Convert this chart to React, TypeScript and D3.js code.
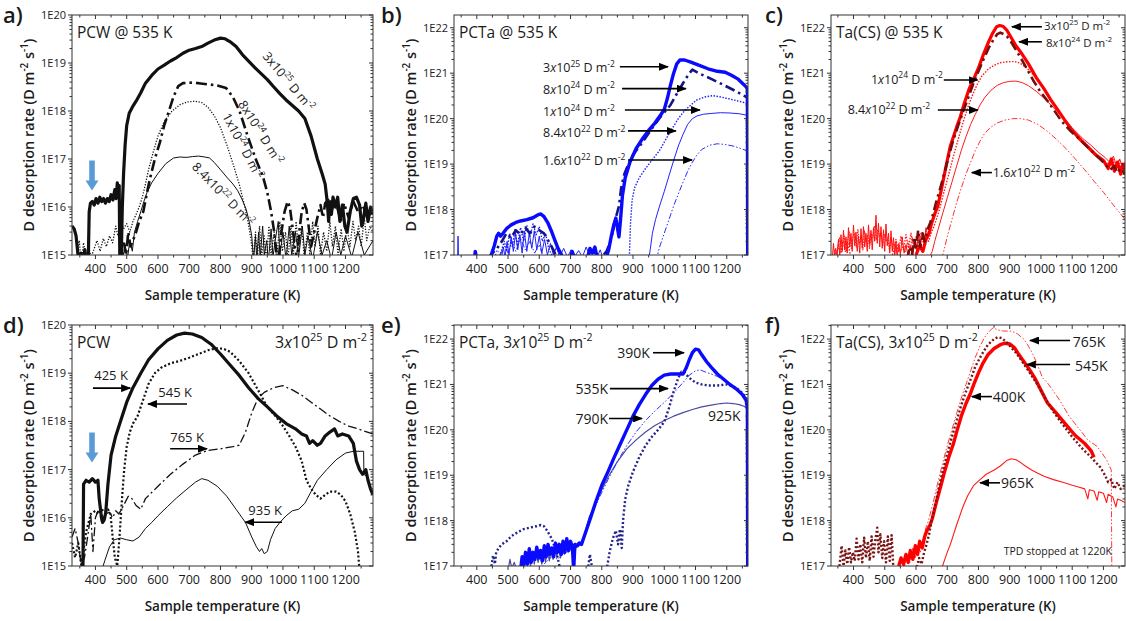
import React from "react";
import * as d3 from "d3";

type Pt = [number, number];
type Part = { t: string; sup?: boolean; it?: boolean };

const FONT = "'Open Sans', 'Noto Sans', sans-serif";
const INK = "#1a1a1a";

// ---------- shared axis values ----------
const xTicks = [400, 500, 600, 700, 800, 900, 1000, 1100, 1200];
const xMinor = [350, 450, 550, 650, 750, 850, 950, 1050, 1150, 1250];

// ---------- a) PCW @ 535 K ----------
const aFl3e25: Pt[] = [[325,4e15],[332,3.5e15],[338,2.5e15],[343,1.2e15],[348,6e14],[354,1.1e15],[360,5e14],[366,1.3e15],[372,5e14],[377,7e14],[380,8e15],[384,1.2e16],[390,1.3e16],[396,1.1e16],[402,1.5e16],[408,1.2e16],[414,1.6e16],[420,1.3e16],[426,1.5e16],[432,1.2e16],[438,1.5e16],[444,1.3e16],[450,1.8e16],[456,1.4e16],[462,2.3e16],[466,1.5e16],[470,3.2e16],[473,1.6e16],[476,2.8e16],[478,8e14],[482,6e14],[486,1e16],[490,5e16],[495,2e17],[500,5e17],[508,9e17],[518,1.2e18],[530,1.6e18],[545,2.4e18],[560,3.8e18],[580,5.5e18],[600,7.5e18],[620,9e18],[640,1.1e19],[660,1.3e19],[680,1.6e19],[700,1.85e19],[720,2e19],[740,2.2e19],[760,2.6e19],[780,3e19],[800,3.3e19],[815,3.2e19],[830,2.8e19],[850,2.2e19],[870,1.5e19],[890,1.1e19],[910,8e18],[930,6e18],[950,4.5e18],[970,3.2e18],[990,2.3e18],[1010,1.7e18],[1030,1.3e18],[1050,1e18],[1070,7e17],[1090,3e17],[1110,1e17],[1125,5e16],[1135,3e16],[1142,1.2e16],[1146,5e15],[1150,1.3e16],[1155,7e15],[1160,1.6e16],[1168,1e16],[1175,1.6e16],[1182,5e15],[1190,1.1e16],[1198,4e15],[1205,3e15],[1215,8e15],[1225,1.5e16],[1235,1.6e16],[1245,1.1e16],[1252,4e15],[1258,6e15],[1265,1.2e16],[1272,5e15],[1280,1e16],[1288,7e15]];
const aFl8e24: Pt[] = [[480,8e14],[490,2e15],[498,1e15],[505,3e15],[512,1.5e15],[520,2e15],[530,3e15],[540,5e15],[553,8e15],[565,2e16],[575,4e16],[590,1e17],[606,2.2e17],[620,5e17],[633,9e17],[650,2e18],[665,3.3e18],[680,3.8e18],[700,3.9e18],[730,3.8e18],[760,3.6e18],[790,3.4e18],[818,3e18],[839,2e18],[861,1e18],[887,3e17],[914,9.5e16],[935,4.5e16],[950,2e16],[962,8e15],[972,3e15],[980,1e15],[986,8e14],[995,3e15],[1005,8e15],[1015,1.3e16],[1022,1e16],[1030,4e15],[1038,1.5e15],[1045,8e14],[1052,3e15],[1060,8e15],[1068,1.2e16],[1075,9e15],[1082,4e15],[1090,1.5e15],[1100,3e15],[1110,6e15],[1120,1.1e16],[1128,6e15],[1135,1.2e16],[1145,1.4e16],[1155,8e15],[1165,1.4e16],[1175,9e15],[1185,5e15],[1195,1.2e16],[1210,6e15],[1225,1.3e16],[1240,8e15],[1255,1.1e16],[1270,6e15],[1288,9e15]];
const aFl1e24: Pt[] = [[340,8e14],[348,2e15],[355,7e14],[362,1.8e15],[370,8e14],[378,1.5e15],[386,9e14],[395,1.3e15],[405,2e15],[415,1.2e15],[425,2.2e15],[435,1.5e15],[445,2.5e15],[455,1.8e15],[465,4e15],[472,2.5e15],[480,5e15],[490,3.5e15],[500,4.5e15],[510,3e15],[520,5e15],[530,7e15],[540,1e16],[550,1.6e16],[560,3e16],[570,6e16],[585,1.4e17],[600,3e17],[620,6e17],[645,1e18],[670,1.35e18],[695,1.55e18],[720,1.6e18],[740,1.5e18],[760,1.2e18],[780,8e17],[800,4.5e17],[820,2e17],[840,8e16],[860,3e16],[875,1.2e16],[888,5e15],[898,2e15],[905,8e14],[912,3e15],[918,8e14],[925,4e15],[932,1e15],[940,2.5e15],[947,7e14],[955,4e15],[962,1e15],[972,3e15],[980,8e14],[990,5e15],[998,1.2e15],[1008,3e15],[1016,8e14],[1025,4e15],[1033,1e15],[1042,5e15],[1050,1.2e15],[1060,4e15],[1068,9e14],[1078,3e15],[1086,1e15],[1095,5e15],[1103,1.5e15],[1112,4e15],[1120,1e15],[1130,3e15],[1140,1.2e15],[1150,5e15],[1158,1.5e15],[1168,4e15],[1176,1e15],[1186,3.5e15],[1195,1.2e15],[1205,4e15],[1214,1.5e15],[1224,5e15],[1232,2e15],[1242,4e15],[1250,1.5e15],[1260,6e15],[1268,2e15],[1278,4e15],[1288,3e15]];
const aFl84e22: Pt[] = [[485,8e14],[495,1.5e15],[503,9e14],[510,2e15],[518,1.2e15],[525,3e15],[535,5e15],[545,8e15],[555,1.3e16],[565,2e16],[580,3.2e16],[600,5e16],[625,8e16],[650,1.05e17],[670,1.1e17],[690,1.08e17],[710,1.12e17],[730,1.15e17],[750,1.1e17],[765,1.05e17],[780,8.5e16],[800,6e16],[820,4.2e16],[840,3e16],[855,2.2e16],[870,1.4e16],[882,9e15],[892,5e15],[900,2.5e15],[906,8e14],[912,2.5e15],[916,8e14],[922,3e15],[927,9e14],[935,4e15],[940,1e15],[948,2e15],[953,7e14],[962,3.5e15],[968,9e14],[975,2e15],[985,5e15],[990,1e15],[1000,3e15],[1010,8e14],[1020,4e15],[1028,1e15],[1040,3e15],[1050,9e14],[1062,4e15],[1070,1e15],[1080,2.5e15],[1095,8e14],[1110,3e15],[1125,1e15],[1140,2e15],[1155,8e14],[1170,3e15],[1185,1e15],[1200,2.5e15],[1220,9e14],[1240,3e15],[1260,1e15],[1288,2e15]];

// ---------- b) PCTa @ 535 K ----------
const bFl3e25: Pt[] = [[390,5e16],[395,1.2e17],[400,8e16],[440,8e16],[448,1.1e17],[456,1.6e17],[464,2.6e17],[470,3e17],[476,2.6e17],[484,3e17],[495,3.8e17],[510,4.6e17],[525,5.2e17],[540,5.6e17],[560,6e17],[580,6.6e17],[595,7.6e17],[605,8e17],[615,7e17],[628,5e17],[640,3.2e17],[650,2.1e17],[660,1.4e17],[670,1.05e17],[675,8e16],[700,8e16],[705,1.2e17],[712,9e16],[755,9e16],[762,1.4e17],[770,1.1e17],[778,1.5e17],[785,9e16],[815,9e16],[822,1.3e17],[830,2.5e17],[838,4.5e17],[845,6.5e17],[850,4e17],[855,2.5e17],[860,6e17],[866,2e18],[875,5e18],[890,1.1e19],[910,2.2e19],[930,3.6e19],[950,5.5e19],[970,8e19],[990,1.25e20],[1000,1.6e20],[1010,2.8e20],[1020,5.5e20],[1030,1e21],[1040,1.6e21],[1050,1.95e21],[1065,1.95e21],[1085,1.75e21],[1110,1.5e21],[1140,1.25e21],[1170,1.1e21],[1195,1.05e21],[1215,9e20],[1235,7.5e20],[1250,6e20],[1262,5e20],[1266,4.5e20],[1267,5e16]];
const bFl8e24: Pt[] = [[440,8e16],[450,1.1e17],[465,1.4e17],[480,2e17],[495,3e17],[510,2.4e17],[525,3.5e17],[540,2.8e17],[555,4e17],[570,3e17],[585,4.2e17],[600,3.5e17],[615,3e17],[630,2e17],[645,1.3e17],[655,9e16],[800,9e16],[815,1.2e17],[828,2e17],[838,4e17],[846,7e17],[855,1.2e18],[862,3e18],[872,6e18],[885,1e19],[900,1.6e19],[930,3e19],[960,6e19],[990,1.15e20],[1005,1.5e20],[1020,2e20],[1040,3.5e20],[1060,6e20],[1078,9.5e20],[1090,1.2e21],[1110,1e21],[1150,7.5e20],[1190,5.5e20],[1230,4e20],[1262,3e20],[1266,2.8e20],[1267,5e16]];
const bFl1e24: Pt[] = [[470,8e16],[478,1.2e17],[488,2e17],[496,1.2e17],[505,3e17],[514,1.5e17],[522,3.6e17],[530,1.6e17],[540,4e17],[550,2e17],[560,4.5e17],[570,2.5e17],[580,4.8e17],[590,2.8e17],[600,4.2e17],[610,2e17],[620,3e17],[630,1.4e17],[640,1e17],[648,8e16],[888,8e16],[892,5e17],[897,1.6e18],[905,3e18],[920,5e18],[940,8e18],[960,1.2e19],[985,2e19],[1005,3.5e19],[1025,6e19],[1045,1e20],[1065,1.5e20],[1085,2e20],[1105,2.6e20],[1130,3e20],[1155,3.2e20],[1180,3e20],[1210,2.7e20],[1240,2.4e20],[1262,2.2e20],[1266,2e20],[1267,5e16]];
const bFl84e22: Pt[] = [[338,5e16],[340,2.6e17],[342,5e16],[478,8e16],[485,1.5e17],[490,9e16],[497,2e17],[503,1e17],[510,2.5e17],[517,1.2e17],[524,3e17],[531,1.3e17],[538,2.8e17],[545,1.1e17],[552,3.4e17],[560,1.2e17],[568,3e17],[576,1.4e17],[584,3.4e17],[592,1.3e17],[600,2.6e17],[608,1.1e17],[617,2.2e17],[626,1e17],[636,1.8e17],[645,1e17],[655,1.5e17],[665,9e16],[678,1.4e17],[690,9e16],[702,1.3e17],[712,9e16],[726,1.25e17],[738,9e16],[750,1.5e17],[760,1e17],[772,1.2e17],[785,9e16],[795,1.3e17],[805,8e16],[950,8e16],[955,1.3e17],[962,3e17],[972,6e17],[985,1.2e18],[1000,2.5e18],[1015,5.5e18],[1030,1.2e19],[1045,2.5e19],[1060,4.5e19],[1075,7.5e19],[1090,1e20],[1105,1.15e20],[1125,1.25e20],[1150,1.3e20],[1180,1.35e20],[1210,1.33e20],[1240,1.28e20],[1262,1.2e20],[1266,1.15e20],[1267,5e16]];
const bFl16e22: Pt[] = [[455,8e16],[465,1.3e17],[475,1e17],[488,1.6e17],[500,1.1e17],[512,2e17],[525,1.2e17],[540,2.3e17],[555,1.3e17],[570,2e17],[585,1.1e17],[600,1.7e17],[612,9e16],[975,8e16],[985,1.5e17],[1000,3e17],[1015,6e17],[1030,1.2e18],[1045,2.2e18],[1060,4e18],[1075,7e18],[1090,1.1e19],[1105,1.6e19],[1120,2.1e19],[1145,2.6e19],[1170,2.8e19],[1195,2.7e19],[1220,2.5e19],[1245,2.2e19],[1262,2e19],[1266,1.9e19],[1267,5e16]];

// ---------- c) Ta(CS) @ 535 K ----------
const cNoise: Pt[] = [[333,1e17],[336,1.8e17],[339,1e17],[343,1.4e17],[347,9e16],[352,2.2e17],[356,1e17],[360,2.8e17],[364,1.2e17],[368,3.5e17],[372,1.3e17],[376,2.5e17],[380,1.1e17],[384,4e17],[388,1.5e17],[392,3e17],[396,1.2e17],[400,4.5e17],[404,1.6e17],[408,3.2e17],[412,1.2e17],[416,2.6e17],[420,1.1e17],[424,3.8e17],[428,1.4e17],[432,4.2e17],[436,1.5e17],[440,3e17],[444,1.2e17],[448,4.6e17],[452,1.7e17],[456,3.5e17],[460,1.3e17],[464,4e17],[468,2e17],[472,7.5e17],[476,1.8e17],[480,5e17],[484,1.5e17],[488,4.2e17],[492,1.4e17],[496,3.6e17],[500,1.2e17],[504,4.8e17],[508,1.6e17],[512,3e17],[516,1.1e17],[520,3.4e17],[524,1.2e17],[528,2.4e17],[532,1e17],[536,2e17],[540,9e16],[545,1.8e17],[550,1e17],[556,2.5e17],[562,1.1e17],[568,1.7e17],[575,9e16],[582,1.6e17],[590,1e17],[596,2.2e17],[602,1.2e17],[608,3.3e17],[614,1.5e17],[620,3e17],[626,1.8e17],[632,4e17],[638,2.5e17]];
const cNoise2: Pt[] = [[340,1.3e17],[345,9e16],[350,1.6e17],[355,2.4e17],[361,1.1e17],[366,1.9e17],[371,2.6e17],[377,1.2e17],[382,2.2e17],[387,3.2e17],[393,1.4e17],[398,2.4e17],[403,3e17],[409,1.5e17],[414,3.6e17],[419,1.8e17],[425,2.6e17],[430,1.3e17],[435,3.4e17],[441,2e17],[446,2.8e17],[451,1.4e17],[457,3e17],[462,2.4e17],[467,4.4e17],[473,2.2e17],[478,3.6e17],[483,2.6e17],[489,3e17],[494,1.6e17],[499,2.8e17],[505,2e17],[510,2.4e17],[515,1.3e17],[521,2.2e17],[526,1.5e17],[531,1.8e17],[537,1.1e17],[543,1.6e17],[550,1.2e17],[558,1.5e17],[566,1.2e17],[574,2e17],[581,1.3e17],[588,2.4e17],[595,1.5e17],[603,2.6e17],[611,1.8e17],[618,2.4e17],[625,2e17],[632,2.8e17]];
const cFl3e25: Pt[] = [[600,1e17],[612,1.6e17],[622,1.2e17],[632,2.2e17],[642,3e17],[650,5e17],[660,8e17],[670,1.2e18],[680,2.5e18],[690,5.5e18],[700,1.2e19],[710,2.5e19],[720,4e19],[730,6.5e19],[742,1.1e20],[755,2.2e20],[770,4.5e20],[785,7.5e20],[800,1.3e21],[815,2.5e21],[830,4.5e21],[845,7.5e21],[858,1.05e22],[868,1.12e22],[878,1.08e22],[890,9e21],[905,6e21],[920,4e21],[940,2.6e21],[960,1.6e21],[985,8e20],[1010,4.5e20],[1030,2.7e20],[1050,1.7e20],[1075,9.5e19],[1100,5.5e19],[1125,3.5e19],[1150,2.4e19],[1175,1.6e19],[1200,1.2e19],[1215,8e18],[1225,1.3e19],[1235,7e18],[1245,1.1e19],[1255,6e18],[1262,1e19],[1269,7e18]];
const cFl8e24: Pt[] = [[572,8e16],[580,1.5e17],[587,1e17],[594,2.5e17],[600,1.3e17],[607,3.5e17],[614,1.5e17],[621,3e17],[628,2e17],[636,3.5e17],[645,5e17],[655,8e17],[665,1.5e18],[678,3e18],[690,6e18],[705,1.5e19],[720,3.5e19],[735,7e19],[752,1.5e20],[768,3e20],[784,6e20],[800,1.1e21],[816,2e21],[832,3.5e21],[848,5.5e21],[860,7.2e21],[870,7.8e21],[880,7.3e21],[891,6.5e21],[905,4.8e21],[923,3e21],[940,1.9e21],[955,1.25e21],[975,7e20],[997,4e20],[1020,2.5e20],[1040,1.6e20],[1065,9e19],[1093,5.5e19],[1115,4e19],[1136,2.9e19],[1160,2e19],[1179,1.5e19],[1200,1.1e19],[1221,7.5e18],[1235,9e18],[1243,6.5e18],[1255,8e18],[1269,6e18]];
const cFl1e24: Pt[] = [[345,1e17],[352,1.6e17],[358,1.1e17],[366,2e17],[374,1.2e17],[382,1.8e17],[390,1e17],[396,8e16],[520,8e16],[528,1.2e17],[536,2.2e17],[544,1.2e17],[552,2.6e17],[560,1.3e17],[568,2.8e17],[576,1.4e17],[584,3e17],[592,1.6e17],[600,2.5e17],[608,1.5e17],[616,3e17],[624,1.8e17],[632,2.6e17],[640,2e17],[648,3e17],[656,4e17],[665,6e17],[675,1e18],[690,2.5e18],[705,6e18],[720,1.5e19],[735,3.5e19],[750,8e19],[765,1.7e20],[780,3.2e20],[795,5.5e20],[810,8.5e20],[830,1.2e21],[850,1.5e21],[870,1.7e21],[890,1.78e21],[910,1.8e21],[925,1.75e21],[940,1.55e21],[960,1.2e21],[980,8.5e20],[1000,5.5e20],[1025,3e20],[1050,1.7e20],[1075,1e20],[1100,6e19],[1130,3.5e19],[1160,2.1e19],[1190,1.4e19],[1215,1e19],[1230,1.3e19],[1240,8e18],[1250,1.2e19],[1260,7e18],[1269,1e19]];
const cFl84e22: Pt[] = [[640,8e16],[652,1.2e17],[660,2e17],[670,3.5e17],[685,8e17],[700,1.8e18],[715,4e18],[730,9e18],[745,2e19],[760,4e19],[775,7.5e19],[790,1.25e20],[805,2e20],[820,2.9e20],[840,4.2e20],[860,5.4e20],[880,6.2e20],[900,6.6e20],[920,6.7e20],[940,6.2e20],[960,5.3e20],[985,4e20],[1010,2.8e20],[1035,1.9e20],[1060,1.25e20],[1085,8e19],[1110,5.3e19],[1135,3.6e19],[1160,2.6e19],[1185,1.8e19],[1205,1.4e19],[1220,1.1e19],[1232,1.5e19],[1242,9e18],[1252,1.3e19],[1262,8e18],[1269,1.1e19]];
const cFl16e22: Pt[] = [[682,8e16],[690,1.3e17],[700,2.5e17],[715,6e17],[730,1.4e18],[745,3e18],[760,6e18],[775,1.1e19],[790,2e19],[805,3.2e19],[820,4.8e19],[840,6.5e19],[860,8e19],[885,9.3e19],[910,1e20],[935,1e20],[960,9.3e19],[990,7.5e19],[1020,5.3e19],[1050,3.5e19],[1080,2.2e19],[1110,1.3e19],[1140,7.5e18],[1170,4.2e18],[1200,2.4e18],[1230,1.3e18],[1255,8e17],[1269,6e17]];

// ---------- d) PCW, 3x10^25 D m^-2 ----------
const d425: Pt[] = [[355,8e14],[360,8e14],[362,5e16],[370,6e16],[380,5.5e16],[390,6.5e16],[400,5.5e16],[408,6e16],[412,2.5e16],[418,1.2e16],[423,8e15],[428,9e15],[433,1.3e16],[440,5e16],[450,2e17],[465,5e17],[480,1e18],[500,2.5e18],[520,5e18],[545,1e19],[570,1.9e19],[600,3.2e19],[630,4.8e19],[660,6.2e19],[685,6.8e19],[710,6.5e19],[740,5.5e19],[770,4e19],[800,2.5e19],[830,1.5e19],[860,9e18],[890,5e18],[920,3e18],[950,2e18],[980,1.3e18],[1010,9e17],[1040,7e17],[1060,5.5e17],[1075,5e17],[1085,3.5e17],[1095,4e17],[1110,3.2e17],[1120,3.5e17],[1135,5e17],[1150,6e17],[1165,7e17],[1175,5e17],[1190,5.5e17],[1210,5e17],[1225,3.5e17],[1235,1.5e17],[1245,1e17],[1255,8e16],[1265,1e17],[1272,6e16],[1280,4e16],[1288,3e16]];
const d545: Pt[] = [[325,3e15],[335,1.5e15],[345,3e15],[355,1e15],[370,5e15],[385,1.2e16],[400,1.4e16],[410,1.2e16],[420,1.5e16],[430,1.3e16],[440,1.5e16],[448,1.2e16],[455,4e15],[462,1.5e15],[470,1e15],[478,5e15],[485,2.5e16],[492,1e17],[500,3e17],[510,6e17],[520,9e17],[535,1.3e18],[550,2.5e18],[570,6e18],[590,1e19],[610,1.3e19],[640,1.6e19],[670,1.8e19],[700,2.1e19],[730,2.5e19],[760,3e19],[790,3.3e19],[810,3.2e19],[830,2.8e19],[860,1.8e19],[890,1e19],[920,4.5e18],[950,2e18],[980,1.2e18],[1000,8e17],[1020,5e17],[1040,3e17],[1060,1.5e17],[1075,6e16],[1090,4e16],[1105,3e16],[1120,2.5e16],[1135,3e16],[1150,3.5e16],[1170,3.5e16],[1185,3e16],[1200,2.2e16],[1215,1.2e16],[1230,5e15],[1240,2e15],[1245,8e14]];
const d765: Pt[] = [[325,4e15],[335,6e15],[345,3e15],[355,1e15],[365,1.5e15],[375,4e15],[385,1.2e16],[392,2e15],[400,1e16],[410,1.5e16],[420,8e15],[432,1.2e16],[445,1.3e16],[455,1e16],[465,1.4e16],[475,1.2e16],[490,1.8e16],[505,2.8e16],[515,2.6e16],[530,1.8e16],[545,1.5e16],[560,2.5e16],[600,4.5e16],[640,8e16],[680,1.3e17],[720,2e17],[760,2.5e17],[800,2.7e17],[840,3e17],[860,3.2e17],[880,6e17],[900,1.5e18],[920,3e18],[940,4e18],[970,5e18],[1000,5.5e18],[1030,4.5e18],[1060,3.5e18],[1090,2.5e18],[1120,1.8e18],[1150,1.3e18],[1180,1e18],[1210,8e17],[1240,7e17],[1270,6e17],[1288,5.5e17]];
const d935: Pt[] = [[420,8e14],[430,1.3e15],[445,2.5e15],[460,3.5e15],[480,3.8e15],[500,3.5e15],[520,3.3e15],[540,4e15],[560,6e15],[580,8e15],[600,1.1e16],[630,1.7e16],[660,2.6e16],[690,3.8e16],[720,5.5e16],[740,6.5e16],[760,6e16],[790,4.5e16],[820,2.8e16],[850,1.5e16],[880,8e15],[900,4e15],[915,2.5e15],[925,2e15],[932,2.3e15],[940,1.8e15],[950,2e15],[960,3.5e15],[975,6e15],[990,8e15],[1010,1.1e16],[1030,1.4e16],[1050,1.5e16],[1070,2e16],[1090,3.5e16],[1110,6e16],[1140,1e17],[1170,1.6e17],[1200,2.2e17],[1225,2.4e17],[1258,2.4e17],[1259,8e16],[1270,7e16]];

// ---------- e) PCTa, 3x10^25 D m^-2 ----------
const e390: Pt[] = [[540,8e16],[545,1.6e17],[550,1e17],[556,2e17],[562,1.1e17],[568,2.4e17],[574,1.2e17],[580,2e17],[586,1.4e17],[592,2.6e17],[598,1.5e17],[604,2.2e17],[610,1.3e17],[616,2.8e17],[622,1.6e17],[628,3e17],[634,1.8e17],[640,2.5e17],[646,1.6e17],[652,3.2e17],[658,2e17],[664,3e17],[670,1.8e17],[676,3.5e17],[682,2e17],[688,4e17],[694,2.2e17],[700,3.5e17],[706,2.5e17],[710,8e16],[714,3e17],[722,2.8e17],[728,3.2e17],[735,3e17],[750,6e17],[765,1.2e18],[780,2.5e18],[800,6e18],[820,1.2e19],[840,2.5e19],[860,5e19],[880,1e20],[900,2e20],[920,3.6e20],[940,6e20],[960,9.5e20],[980,1.3e21],[1000,1.6e21],[1020,1.7e21],[1040,1.7e21],[1060,1.7e21],[1070,2.3e21],[1080,3.5e21],[1090,5e21],[1100,6e21],[1110,5.8e21],[1120,4.5e21],[1135,3.2e21],[1150,2.4e21],[1170,1.7e21],[1190,1.3e21],[1210,1e21],[1230,8e20],[1250,6e20],[1262,4.5e20],[1266,3e20],[1267,5e16]];
const e535: Pt[] = [[445,8e16],[452,1.7e17],[458,1.1e17],[462,2e17],[470,2.5e17],[480,3e17],[495,3.5e17],[510,4.5e17],[530,5.5e17],[550,6.5e17],[570,7e17],[590,7.5e17],[605,8e17],[615,7.5e17],[625,6e17],[640,4e17],[655,2e17],[662,1.2e17],[668,8e16],[755,8e16],[762,1.8e17],[770,8e16],[815,8e16],[825,2e17],[835,4e17],[845,6e17],[852,3e17],[858,6.5e17],[864,2.5e17],[868,1e18],[875,3e18],[885,6e18],[900,1.2e19],[920,2.5e19],[940,4.5e19],[960,7e19],[980,1e20],[1000,1.5e20],[1015,3e20],[1030,7e20],[1045,1.4e21],[1055,1.9e21],[1065,1.8e21],[1080,1.4e21],[1100,1.1e21],[1120,1e21],[1140,9.5e20],[1170,9.5e20],[1200,1e21],[1230,8.5e20],[1250,6.5e20],[1262,5e20]];
const e790: Pt[] = [[600,8e16],[620,1.2e17],[640,1.6e17],[660,1.4e17],[680,2e17],[700,2.2e17],[720,2.6e17],[735,3e17],[760,1e18],[790,3e18],[820,8e18],[850,2e19],[880,4.5e19],[910,9e19],[940,1.6e20],[970,2.6e20],[1000,4e20],[1030,6.5e20],[1060,1.1e21],[1080,1.6e21],[1100,2e21],[1115,2.1e21],[1130,1.9e21],[1150,1.7e21],[1170,1.5e21],[1190,1.25e21],[1210,1e21],[1230,8e20],[1250,6e20],[1262,4.5e20],[1266,3e20],[1267,5e16]];
const e925: Pt[] = [[500,8e16],[506,1.4e17],[512,9e16],[520,1.2e17],[528,8e16],[560,9e16],[566,1.5e17],[572,1e17],[578,2e17],[584,1.1e17],[590,2.2e17],[596,1.2e17],[602,1.8e17],[608,1.1e17],[614,2e17],[620,1.2e17],[626,2.4e17],[632,1.3e17],[638,2.2e17],[644,1.4e17],[650,2.6e17],[656,1.6e17],[662,2.4e17],[668,1.5e17],[674,2.8e17],[680,1.8e17],[686,3e17],[692,2e17],[698,2.8e17],[704,2.2e17],[710,3e17],[716,2.4e17],[722,3.2e17],[728,2.8e17],[735,3e17],[760,1.2e18],[790,3.5e18],[820,9e18],[850,2e19],[880,3.8e19],[910,6e19],[940,9e19],[970,1.25e20],[1000,1.6e20],[1030,2e20],[1060,2.4e20],[1090,2.8e20],[1120,3.2e20],[1150,3.5e20],[1180,3.8e20],[1200,3.9e20],[1220,3.8e20],[1240,3.6e20],[1255,3.3e20],[1265,3e20],[1267,2.8e20],[1268,5e16]];

// ---------- f) Ta(CS), 3x10^25 D m^-2 ----------
const f765: Pt[] = [[560,8e16],[572,1.6e17],[580,1.2e17],[590,2.5e17],[598,1.5e17],[606,3e17],[614,2e17],[622,4e17],[632,7e17],[640,1e18],[655,2.5e18],[670,7e18],[685,1.8e19],[700,4.5e19],[715,1e20],[730,2.3e20],[745,5e20],[760,1e21],[775,2e21],[790,4e21],[805,7e21],[820,1.1e22],[835,1.5e22],[848,1.8e22],[860,1.6e22],[880,1.5e22],[905,1.5e22],[925,1.3e22],[945,1e22],[960,7e21],[975,4.5e21],[990,2.6e21],[1005,1.4e21],[1020,1.1e21],[1035,8e20],[1060,4.5e20],[1090,2e20],[1120,1.1e20],[1150,6e19],[1180,4.3e19],[1210,2.2e19],[1225,1.3e19],[1227,5e16]];
const f545: Pt[] = [[355,1e17],[362,2.8e17],[368,1e17],[374,2.2e17],[380,1.1e17],[386,2.6e17],[392,1.2e17],[398,2e17],[404,1.3e17],[410,4e17],[416,1.4e17],[422,3e17],[428,1.2e17],[434,4.2e17],[440,1.5e17],[446,3.5e17],[452,1.3e17],[458,4.5e17],[464,1.6e17],[470,3.8e17],[476,7e17],[480,2e17],[486,5e17],[492,1.5e17],[498,3.5e17],[504,1.2e17],[510,4.5e17],[516,1.3e17],[522,4.8e17],[528,8e16],[600,8e16],[610,1.5e17],[618,1.1e17],[626,2e17],[634,3e17],[642,5e17],[650,1e18],[660,2e18],[672,5e18],[685,1.2e19],[700,3e19],[715,7e19],[730,1.6e20],[745,3.5e20],[760,7e20],[775,1.3e21],[790,2.5e21],[810,4.5e21],[830,7.5e21],[850,1e22],[862,1.1e22],[875,1.05e22],[890,8.5e21],[905,6.5e21],[920,5e21],[940,3.2e21],[960,2e21],[985,1.1e21],[1010,5.5e20],[1040,2.5e20],[1070,1.3e20],[1100,7e19],[1130,4e19],[1160,2.5e19],[1190,1.5e19],[1205,1e19],[1215,7e18],[1225,8e18],[1235,5e18],[1245,7e18],[1255,5e18],[1269,6e18]];
const f400: Pt[] = [[545,1e17],[552,1.5e17],[560,1.1e17],[568,1.8e17],[575,1.2e17],[582,2.2e17],[590,1.4e17],[598,2.8e17],[605,1.8e17],[612,3.5e17],[620,2.5e17],[628,4.5e17],[635,6e17],[645,8e17],[652,1.1e18],[665,2.5e18],[680,6e18],[690,1.1e19],[705,2.5e19],[720,5e19],[732,1e20],[745,2e20],[760,3.8e20],[775,6.5e20],[785,1e21],[800,1.8e21],[815,3e21],[830,4.5e21],[850,6.2e21],[870,7.5e21],[885,8.1e21],[900,7.8e21],[915,6.5e21],[930,4.5e21],[945,3.2e21],[960,2.3e21],[980,1.4e21],[1000,7.5e20],[1020,4e20],[1050,2.3e20],[1080,1.3e20],[1110,7.5e19],[1140,5e19],[1160,3.5e19],[1170,2.5e19]];
const f965: Pt[] = [[680,8e16],[700,2e17],[710,3e17],[730,8e17],[750,2e18],[765,3.5e18],[785,6e18],[805,8e18],[825,1.05e19],[850,1.3e19],[870,1.6e19],[890,2.1e19],[905,2.3e19],[920,2.2e19],[935,1.9e19],[950,1.6e19],[970,1.3e19],[990,1.1e19],[1010,9.5e18],[1040,8e18],[1070,7e18],[1100,6e18],[1120,5.5e18],[1140,5e18],[1150,3e18],[1155,4.8e18],[1170,4.5e18],[1180,2.8e18],[1185,4.3e18],[1200,4e18],[1210,2.5e18],[1215,3.8e18],[1230,3.3e18],[1240,2e18],[1245,3e18],[1255,2.8e18],[1269,2.5e18]];

// ---------- types / helpers ----------
type Series = { data: Pt[]; color: string; width: number; dash?: string };
type Note = { parts: Part[]; t: number; v: number; anchor?: "start" | "middle" | "end"; angle?: number; fs?: number };
type Arrow = [number, number, number]; // tail T, tip T, value
type PanelSpec = {
  key: string; letter: string; letterX: number;
  x0: number; x1: number; y0: number; y1: number;
  tDom: [number, number]; vDom: [number, number]; exps: number[];
  series: Series[]; header: Part[]; headerRight?: Part[];
  notes: Note[]; arrows: Arrow[]; blue?: [number, number];
};

const fl = (m: string, e: string, it = true): Part[] => [
  { t: m }, { t: "x", it }, { t: "10" }, { t: e, sup: true }, { t: " D m" }, { t: "-2", sup: true },
];
const txt = (s: string): Part[] => [{ t: s }];

function Rich({ parts, fs }: { parts: Part[]; fs: number }) {
  let up = false;
  return (
    <>
      {parts.map((p, i) => {
        let dy = 0;
        if (p.sup && !up) { dy = -0.42 * fs; up = true; }
        else if (!p.sup && up) { dy = 0.42 * fs; up = false; }
        return (
          <tspan key={i} dy={dy === 0 ? undefined : dy} fontSize={p.sup ? fs * 0.68 : fs}
            fontStyle={p.it ? "italic" : undefined}>{p.t}</tspan>
        );
      })}
    </>
  );
}

const BLACK = "#111";
const panels: PanelSpec[] = [
  {
    key: "a", letter: "a)", letterX: 3, x0: 72, x1: 373, y0: 15, y1: 255,
    tDom: [325, 1288], vDom: [1e15, 1e20], exps: [15, 16, 17, 18, 19, 20],
    series: [
      { data: aFl84e22, color: BLACK, width: 1 },
      { data: aFl1e24, color: BLACK, width: 1.3, dash: "1.2,1.6" },
      { data: aFl8e24, color: BLACK, width: 2.6, dash: "11,4,2.5,4" },
      { data: aFl3e25, color: BLACK, width: 3.2 },
    ],
    header: txt("PCW @ 535 K"),
    notes: [
      { parts: fl("3", "25", false), t: 1007, v: 3.6e18, anchor: "middle", angle: 50, fs: 12.5 },
      { parts: fl("8", "24", false), t: 917, v: 3.2e17, anchor: "middle", angle: 58, fs: 12.5 },
      { parts: fl("1", "24", false), t: 859, v: 1.7e17, anchor: "middle", angle: 62, fs: 12.5 },
      { parts: fl("8.4", "22", false), t: 799, v: 1.6e16, anchor: "middle", angle: 46, fs: 12.5 },
    ],
    arrows: [], blue: [389, 2.2e16],
  },
  {
    key: "b", letter: "b)", letterX: 381, x0: 454, x1: 748, y0: 15, y1: 255,
    tDom: [327, 1268], vDom: [1e17, Math.pow(10, 22.28)], exps: [17, 18, 19, 20, 21, 22],
    series: [
      { data: bFl16e22, color: "#2b2bff", width: 1, dash: "6,2,1.5,2,1.5,2" },
      { data: bFl84e22, color: "#2222ff", width: 1 },
      { data: bFl1e24, color: "#1f1fff", width: 1.4, dash: "1.5,1.5" },
      { data: bFl8e24, color: "#14148a", width: 2.6, dash: "10,4,2.5,4" },
      { data: bFl3e25, color: "#0a0aff", width: 3.4 },
    ],
    header: txt("PCTa @ 535 K"),
    notes: [
      { parts: fl("3", "25"), t: 612, v: 1.07e21, fs: 12.5 },
      { parts: fl("8", "24"), t: 612, v: 3.55e20, fs: 12.5 },
      { parts: fl("1", "24"), t: 612, v: 1.15e20, fs: 12.5 },
      { parts: fl("8.4", "22"), t: 612, v: 3.98e19, fs: 12.5 },
      { parts: fl("1.6", "22"), t: 612, v: 9.5e18, fs: 12.5 },
    ],
    arrows: [[858, 1012, 1.38e21], [865, 1069, 4.57e20], [874, 1114, 1.55e20], [884, 1037, 5.37e19], [884, 1089, 1.23e19]],
  },
  {
    key: "c", letter: "c)", letterX: 765, x0: 831, x1: 1125, y0: 15, y1: 255,
    tDom: [328, 1269], vDom: [1e17, Math.pow(10, 22.28)], exps: [17, 18, 19, 20, 21, 22],
    series: [
      { data: cNoise2, color: "#ff2a2a", width: 1.2, dash: "1.5,1.2" },
      { data: cNoise, color: "#ff1010", width: 1 },
      { data: cFl16e22, color: "#ff3030", width: 1, dash: "6,2,1.5,2,1.5,2" },
      { data: cFl84e22, color: "#ff1a1a", width: 1 },
      { data: cFl1e24, color: "#ff1a1a", width: 1.4, dash: "1.5,1.5" },
      { data: cFl3e25, color: "#ff0000", width: 3.2 },
      { data: cFl8e24, color: "#7a0c0c", width: 2.6, dash: "10,4,2.5,4" },
    ],
    header: txt("Ta(CS) @ 535 K"),
    notes: [
      { parts: fl("3", "25"), t: 1010, v: 8.8e21, fs: 11.5 },
      { parts: fl("8", "24"), t: 1016, v: 3.8e21, fs: 11.5 },
      { parts: fl("1", "24"), t: 686, v: 5.9e20, anchor: "end", fs: 12.5 },
      { parts: fl("8.4", "22"), t: 645, v: 1.26e20, anchor: "end", fs: 12.5 },
      { parts: fl("1.6", "22"), t: 846, v: 5.2e18, fs: 12.5 },
    ],
    arrows: [[1003, 907, 1.05e22], [1003, 930, 4.9e21], [689, 797, 7.1e20], [670, 798, 1.55e20], [843, 779, 6.5e18]],
  },
  {
    key: "d", letter: "d)", letterX: 3, x0: 72, x1: 373, y0: 325, y1: 566,
    tDom: [325, 1288], vDom: [1e15, 1e20], exps: [15, 16, 17, 18, 19, 20],
    series: [
      { data: d935, color: BLACK, width: 1 },
      { data: d765, color: BLACK, width: 1.3, dash: "9,3,2,3" },
      { data: d545, color: BLACK, width: 2.2, dash: "2,2.2" },
      { data: d425, color: BLACK, width: 3.2 },
    ],
    header: txt("PCW"), headerRight: fl("3", "25"),
    notes: [
      { parts: txt("425 K"), t: 450, v: 7.2e18, anchor: "middle" },
      { parts: txt("545 K"), t: 655, v: 3.2e18, anchor: "middle" },
      { parts: txt("765 K"), t: 693, v: 3.7e17, anchor: "middle" },
      { parts: txt("935 K"), t: 943, v: 1.15e16, anchor: "middle" },
    ],
    arrows: [[392, 511, 4.9e18], [693, 568, 2.3e18], [639, 757, 2.7e17], [997, 879, 8.1e15]],
    blue: [389, 1.4e17],
  },
  {
    key: "e", letter: "e)", letterX: 381, x0: 454, x1: 748, y0: 325, y1: 566,
    tDom: [327, 1268], vDom: [1e17, Math.pow(10, 22.31)], exps: [17, 18, 19, 20, 21, 22],
    series: [
      { data: e925, color: "#4a4a9e", width: 1.2 },
      { data: e790, color: "#3030ff", width: 1, dash: "6,2,1.5,2,1.5,2" },
      { data: e535, color: "#23238c", width: 2.4, dash: "2,2.2" },
      { data: e390, color: "#0a0aff", width: 3.4 },
    ],
    header: [{ t: "PCTa, " }, ...fl("3", "25")],
    notes: [
      { parts: txt("390K"), t: 954, v: 3.9e21, anchor: "end", fs: 14 },
      { parts: txt("535K"), t: 820, v: 6.3e20, anchor: "end", fs: 14 },
      { parts: txt("790K"), t: 820, v: 1.35e20, anchor: "end", fs: 14 },
      { parts: txt("925K"), t: 1140, v: 1.58e20, fs: 14 },
    ],
    arrows: [[964, 1063, 5e21], [826, 1012, 8.1e20], [823, 929, 1.78e20]],
  },
  {
    key: "f", letter: "f)", letterX: 765, x0: 831, x1: 1125, y0: 325, y1: 566,
    tDom: [328, 1269], vDom: [1e17, Math.pow(10, 22.31)], exps: [17, 18, 19, 20, 21, 22],
    series: [
      { data: f965, color: "#ff1a1a", width: 1.1 },
      { data: f765, color: "#ff3a3a", width: 1, dash: "6,2,1.5,2,1.5,2" },
      { data: f400, color: "#ff0000", width: 3.4 },
      { data: f545, color: "#7a1414", width: 2.4, dash: "2,2.2" },
    ],
    header: [{ t: "Ta(CS), " }, ...fl("3", "25")],
    notes: [
      { parts: txt("765K"), t: 1102, v: 6.8e21, fs: 14 },
      { parts: txt("545K"), t: 1109, v: 2e21, fs: 14 },
      { parts: txt("400K"), t: 846, v: 4.2e20, fs: 14 },
      { parts: txt("965K"), t: 872, v: 5.2e18, fs: 14 },
      { parts: txt("TPD stopped at 1220K"), t: 1227, v: 1.75e17, anchor: "end", fs: 10.5 },
    ],
    arrows: [[1093, 965, 9.3e21], [1093, 955, 2.75e21], [843, 779, 5.4e20], [869, 805, 6.8e18]],
  },
];

function Panel({ p }: { p: PanelSpec }) {
  const x = d3.scaleLinear().domain(p.tDom).range([p.x0, p.x1]);
  const y = d3.scaleLog().domain(p.vDom).range([p.y1, p.y0]);
  const lo = p.vDom[0];
  const line = d3.line<Pt>().x(d => x(d[0])).y(d => y(Math.max(d[1], lo / 50)));
  const minors: number[] = [];
  p.exps.forEach(e => {
    for (let m = 2; m <= 9; m++) {
      const v = m * Math.pow(10, e);
      if (v > p.vDom[0] && v < p.vDom[1]) minors.push(v);
    }
  });
  const midY = (p.y0 + p.y1) / 2;
  const clipId = `clip-${p.key}`;
  return (
    <g>
      <defs>
        <clipPath id={clipId}>
          <rect x={p.x0} y={p.y0} width={p.x1 - p.x0} height={p.y1 - p.y0} />
        </clipPath>
      </defs>
      <g clipPath={`url(#${clipId})`}>
        {p.series.map((s, i) => (
          <path key={i} d={line(s.data) || ""} fill="none" stroke={s.color} strokeWidth={s.width}
            strokeDasharray={s.dash} strokeLinejoin="round" />
        ))}
      </g>
      {/* frame and ticks */}
      <rect x={p.x0} y={p.y0} width={p.x1 - p.x0} height={p.y1 - p.y0} fill="none" stroke="#333" strokeWidth={1} />
      {xTicks.map(t => (
        <g key={"xt" + t}>
          <line x1={x(t)} x2={x(t)} y1={p.y1} y2={p.y1 + 4} stroke="#333" />
          <line x1={x(t)} x2={x(t)} y1={p.y0} y2={p.y0 + 4} stroke="#333" />
          <text x={x(t)} y={p.y1 + 18} textAnchor="middle" fontSize={12.5} fill={INK}>{t}</text>
        </g>
      ))}
      {xMinor.map(t => (
        <g key={"xm" + t}>
          <line x1={x(t)} x2={x(t)} y1={p.y1} y2={p.y1 + 2.5} stroke="#333" />
          <line x1={x(t)} x2={x(t)} y1={p.y0} y2={p.y0 + 2.5} stroke="#333" />
        </g>
      ))}
      {p.exps.map(e => {
        const v = Math.pow(10, e);
        return (
          <g key={"yt" + e}>
            <line x1={p.x0 - 4} x2={p.x0} y1={y(v)} y2={y(v)} stroke="#333" />
            <line x1={p.x1 - 4} x2={p.x1} y1={y(v)} y2={y(v)} stroke="#333" />
            <text x={p.x0 - 6} y={y(v) + 4} textAnchor="end" fontSize={11} fill={INK}>{`1E${e}`}</text>
          </g>
        );
      })}
      {minors.map((v, i) => (
        <g key={"ym" + i}>
          <line x1={p.x0 - 2.5} x2={p.x0} y1={y(v)} y2={y(v)} stroke="#333" />
          <line x1={p.x1 - 2.5} x2={p.x1} y1={y(v)} y2={y(v)} stroke="#333" />
        </g>
      ))}
      {/* axis titles */}
      <text x={(p.x0 + p.x1) / 2} y={p.y1 + 45} textAnchor="middle" fontSize={13.5} fontWeight={600} fill={INK}>
        Sample temperature (K)
      </text>
      <text transform={`translate(${p.x0 - 38},${midY}) rotate(-90)`} textAnchor="middle" fontWeight={600} fill={INK}>
        <Rich fs={14.5} parts={[{ t: "D desorption rate (D m" }, { t: "-2", sup: true }, { t: " s" }, { t: "-1", sup: true }, { t: ")" }]} />
      </text>
      <text x={p.letterX} y={p.y0 + 8} fontSize={22} fontWeight={600} fill={INK}>{p.letter}</text>
      {/* header */}
      <text x={p.x0 + 5} y={p.y0 + 23} fill={INK}><Rich fs={15.5} parts={p.header} /></text>
      {p.headerRight && (
        <text x={p.x1 - 6} y={p.y0 + 23} textAnchor="end" fill={INK}><Rich fs={16} parts={p.headerRight} /></text>
      )}
      {/* annotations */}
      {p.notes.map((n, i) => {
        const fs = n.fs || 13;
        const px = x(n.t), py = y(n.v);
        return (
          <text key={"n" + i} transform={`translate(${px},${py})${n.angle ? ` rotate(${n.angle})` : ""}`}
            textAnchor={n.anchor || "start"} fill={INK}>
            <Rich fs={fs} parts={n.parts} />
          </text>
        );
      })}
      {p.arrows.map((a, i) => (
        <line key={"a" + i} x1={x(a[0])} x2={x(a[1])} y1={y(a[2])} y2={y(a[2])} stroke="#000"
          strokeWidth={1.6} markerEnd="url(#ah)" />
      ))}
      {p.blue && (() => {
        const tx = x(p.blue[0]), ty = y(p.blue[1]);
        const d = `M${tx - 2.8},${ty - 30} L${tx + 2.8},${ty - 30} L${tx + 2.8},${ty - 10} L${tx + 6.5},${ty - 10} L${tx},${ty} L${tx - 6.5},${ty - 10} L${tx - 2.8},${ty - 10} Z`;
        return <path d={d} fill="#5b9bd5" />;
      })()}
    </g>
  );
}

export default function App() {
  return (
    <svg width={1126} height={621} style={{ position: "fixed", left: 0, top: 0, background: "#fff" }}
      fontFamily={FONT}>
      <defs>
        <marker id="ah" markerUnits="userSpaceOnUse" markerWidth={10} markerHeight={8} refX={9} refY={4} orient="auto">
          <path d="M0,0 L10,4 L0,8 Z" fill="#000" />
        </marker>
      </defs>
      <rect width={1126} height={621} fill="#fff" />
      {panels.map(p => <Panel key={p.key} p={p} />)}
    </svg>
  );
}
